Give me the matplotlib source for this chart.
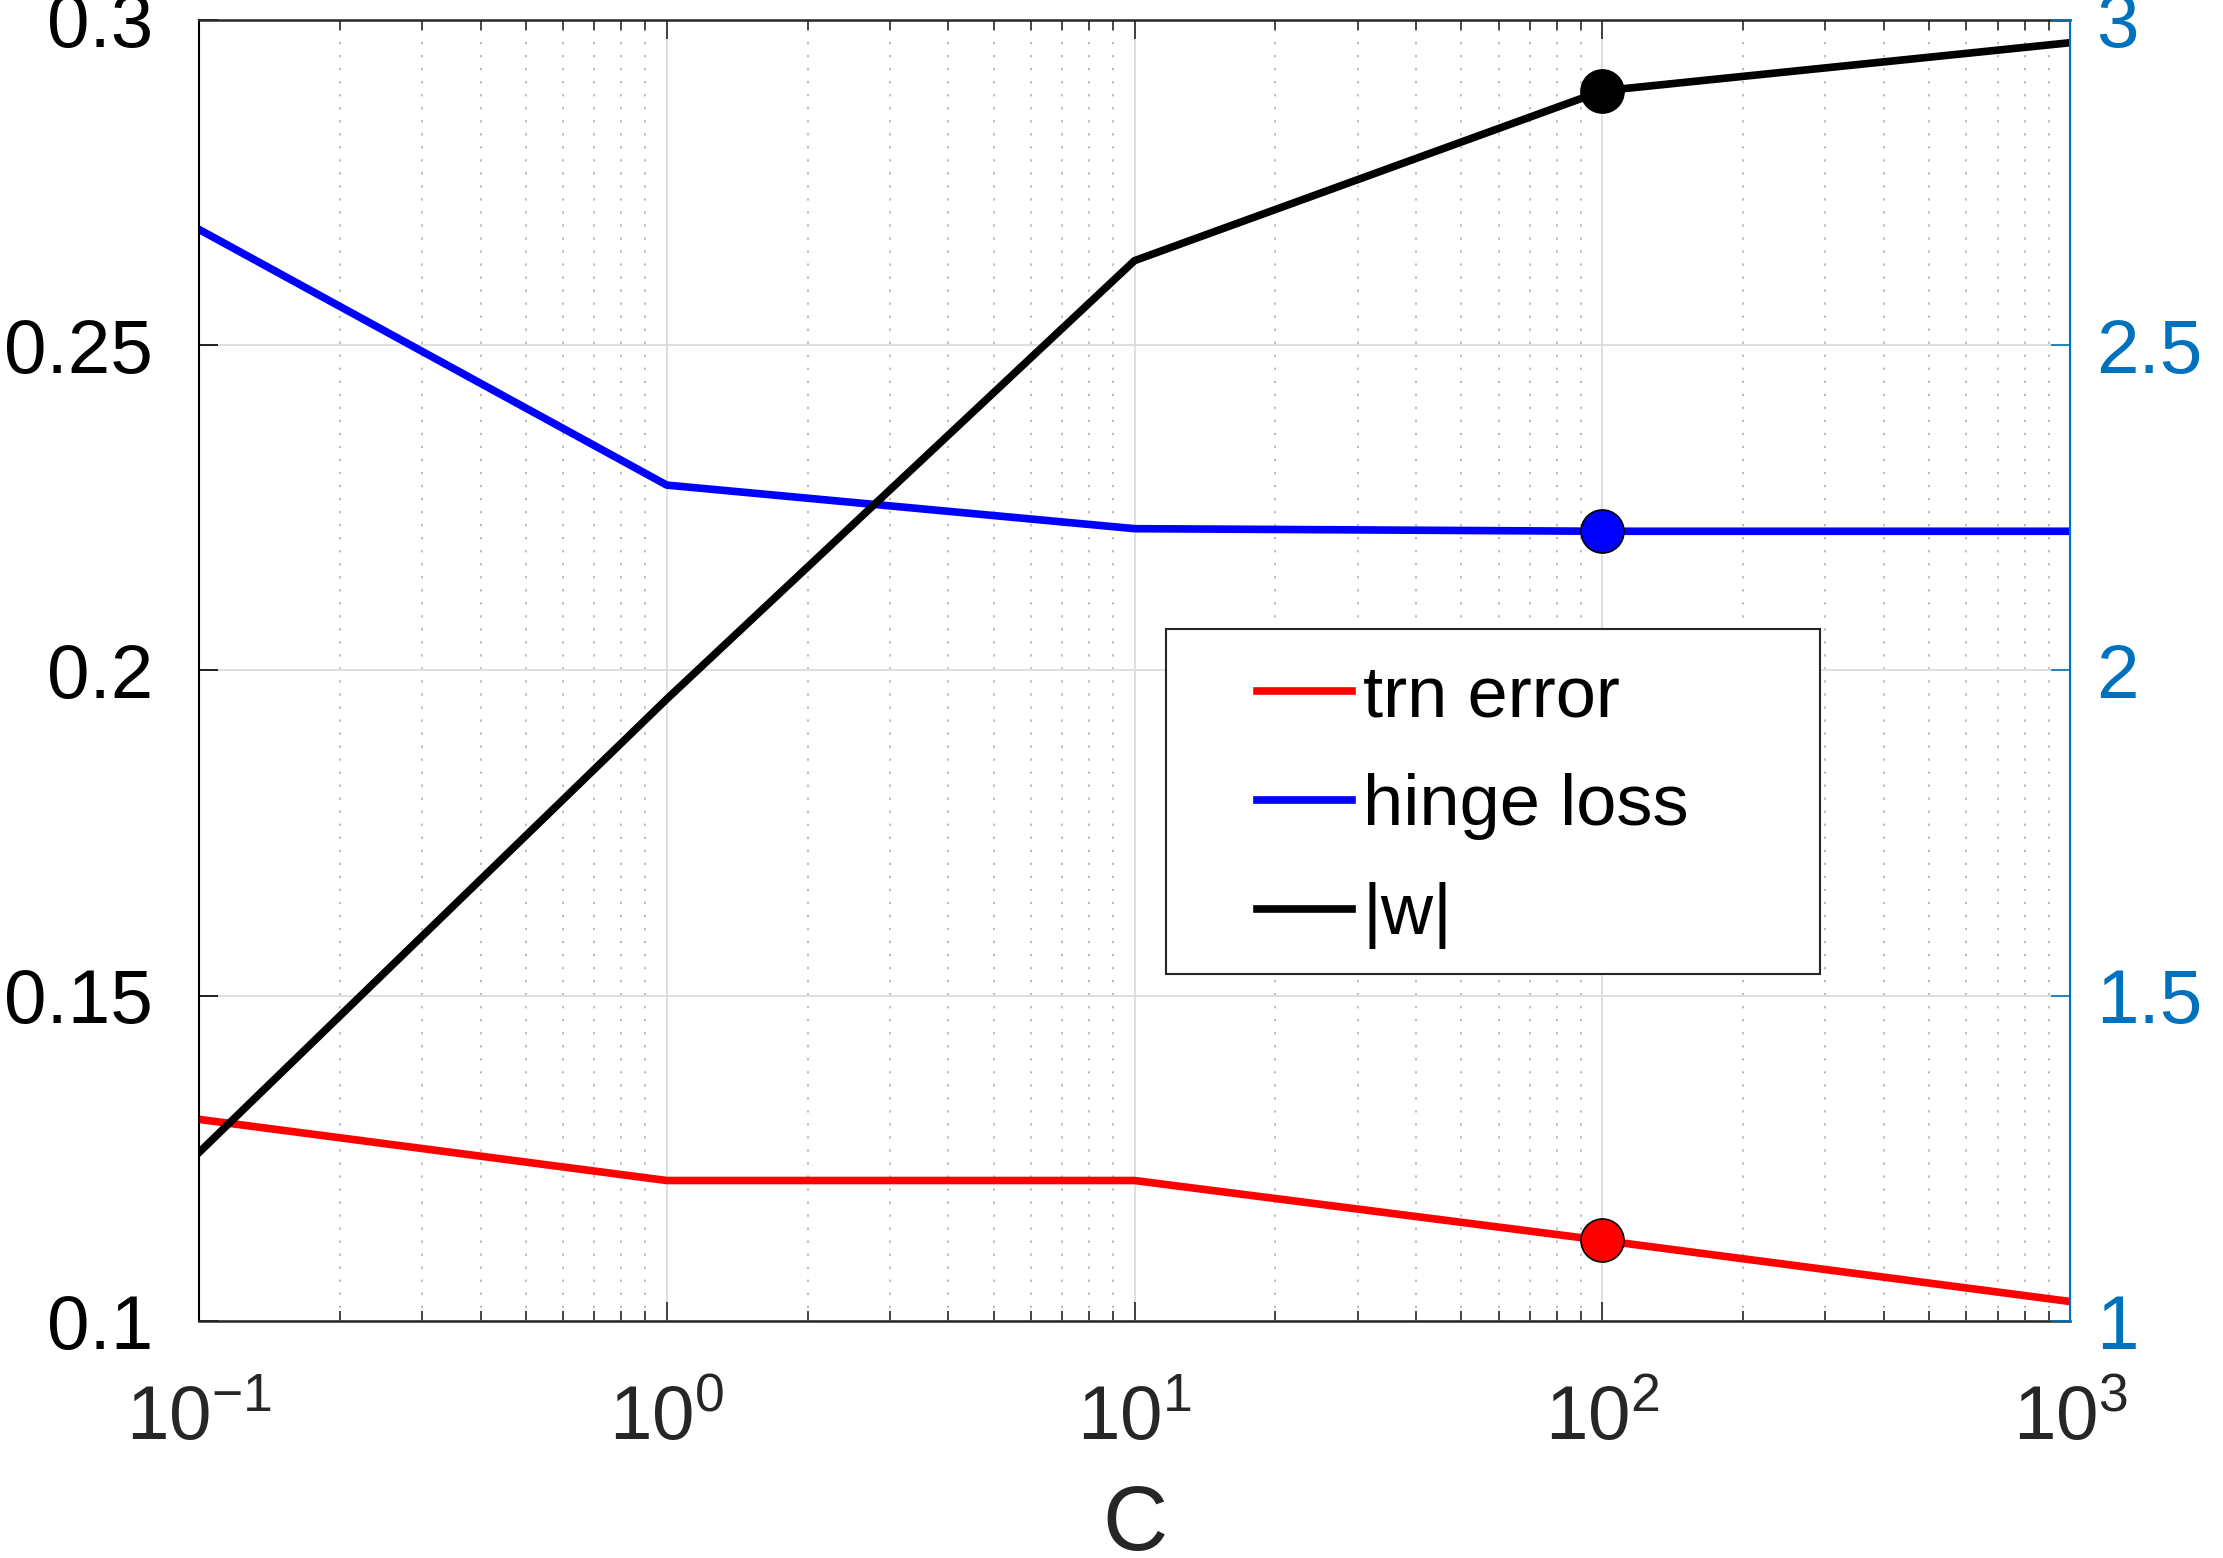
import numpy as np
import matplotlib
matplotlib.use('Agg')
import matplotlib.pyplot as plt
from matplotlib.patches import Rectangle

# %% Data
C_values = [0.1, 1, 10, 100, 1000]
trn_error = [0.131, 0.1216, 0.1216, 0.1124, 0.103]
hinge_loss = [0.2678, 0.2285, 0.2218, 0.2214, 0.2214]
w_norm = [1.259, 1.956, 2.630, 2.891, 2.965]

# chosen C (highlighted with a dot)
C_best = 100
i_best = C_values.index(C_best)

x_ticks = [0.1, 1, 10, 100, 1000]
x_tick_labels = ['$\\mathregular{10^{-1}}$', '$\\mathregular{10^{0}}$',
                 '$\\mathregular{10^{1}}$', '$\\mathregular{10^{2}}$',
                 '$\\mathregular{10^{3}}$']
left_ticks = [0.1, 0.15, 0.2, 0.25, 0.3]
left_tick_labels = ['0.1', '0.15', '0.2', '0.25', '0.3']
right_ticks = [1, 1.5, 2, 2.5, 3]
right_tick_labels = ['1', '1.5', '2', '2.5', '3']

# %% Style
plt.rcParams['font.family'] = 'Liberation Sans'
plt.rcParams['mathtext.fontset'] = 'custom'
plt.rcParams['mathtext.rm'] = 'Liberation Sans'
plt.rcParams['mathtext.it'] = 'Liberation Sans'
plt.rcParams['mathtext.bf'] = 'Liberation Sans'

blue_axis = '#0072BD'
dark = '#262626'
lw = 5.5
ms = 31
tick_fs = 55

fig = plt.figure(figsize=(22.23, 15.58), dpi=100)
ax = fig.add_axes([0.0895, 0.1521, 0.8417, 0.8351])
ax2 = ax.twinx()

# %% Left axis: error and hinge loss
l1, = ax.plot(C_values, trn_error, color='red', lw=lw, label='trn error')
l2, = ax.plot(C_values, hinge_loss, color='blue', lw=lw, label='hinge loss')
ax.plot(C_values[i_best], trn_error[i_best], 'o', color='red', ms=ms,
        mec='black', mew=1.2)
ax.plot(C_values[i_best], hinge_loss[i_best], 'o', color='blue', ms=ms,
        mec='black', mew=1.2)

ax.set_xscale('log')
ax.set_xlim(0.1, 1000)
ax.set_ylim(0.1, 0.3)
ax.set_xticks(x_ticks)
ax.set_xticklabels(x_tick_labels)
ax.set_yticks(left_ticks)
ax.set_yticklabels(left_tick_labels)

ax.grid(True, which='major', color='#DCDCDC', lw=1.3, ls='-')
ax.grid(True, which='minor', axis='x', color='#BDBDBD', lw=1.4,
        ls=(0, (1.2, 5.5)))
ax.set_axisbelow(True)

ax.tick_params(axis='x', which='both', direction='in', top=True,
               colors=dark, labelsize=tick_fs, pad=46)
ax.tick_params(axis='x', which='major', length=14, width=1.2)
ax.tick_params(axis='x', which='minor', length=7, width=1.2)
ax.tick_params(axis='y', direction='in', length=14, width=1.2,
               colors='black', labelsize=tick_fs, pad=33)
ax.set_xlabel('C', fontsize=65, color=dark, labelpad=20)

for side in ['top', 'bottom']:
    ax.spines[side].set_color(dark)
    ax.spines[side].set_linewidth(1.8)
ax.spines['left'].set_color('black')
ax.spines['left'].set_linewidth(1.5)

# %% Right axis: |w|
l3, = ax2.plot(C_values, w_norm, color='black', lw=lw, label='|w|')
ax2.plot(C_values[i_best], w_norm[i_best], 'o', color='black', ms=ms,
         mec='black', mew=1.2)
ax2.set_ylim(1, 3)
ax2.set_yticks(right_ticks)
ax2.set_yticklabels(right_tick_labels)
ax2.tick_params(axis='y', direction='in', length=14, width=1.2,
                colors=blue_axis, labelsize=tick_fs, pad=19)
ax2.spines['right'].set_color(blue_axis)
ax2.spines['right'].set_linewidth(1.5)
for side in ['top', 'bottom', 'left']:
    ax2.spines[side].set_visible(False)

# %% Legend box
ax2.add_patch(Rectangle((0.5168, 0.2667), 0.3496, 0.2652,
                        transform=ax2.transAxes, facecolor='white',
                        edgecolor=dark, lw=1.5, zorder=5))
leg = ax2.legend(handles=[l1, l2, l3], loc='center left',
                 bbox_to_anchor=(0.5655, 0.3955), frameon=False,
                 fontsize=52, handlelength=1.31, handletextpad=0.15,
                 labelspacing=0.58, borderpad=0, borderaxespad=0)
leg.set_zorder(6)

fig.savefig('out.png', dpi=100)
